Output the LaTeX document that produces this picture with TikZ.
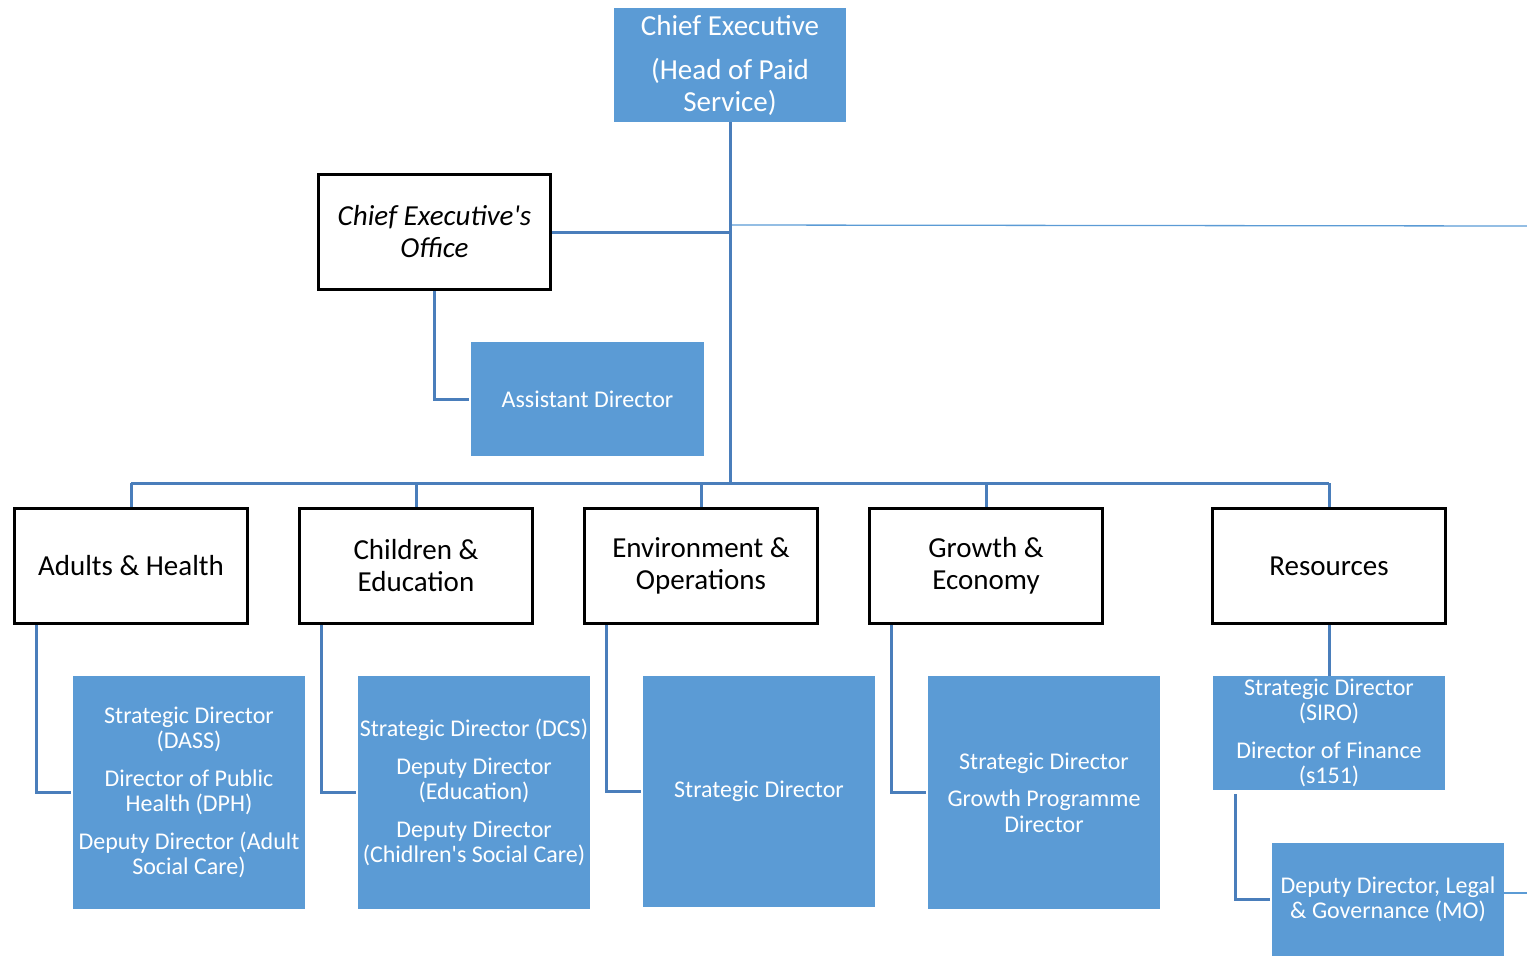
\documentclass[tikz,border=0pt]{standalone}
\usepackage{fontspec}
\setmainfont{Carlito}
\definecolor{boxblue}{HTML}{5B9BD5}
\definecolor{linkblue}{HTML}{4A7EBB}
\begin{document}
\begin{tikzpicture}[x=1pt,y=-1pt,
  bluebox/.style={fill=boxblue, draw=none, text=white, align=center, inner sep=0pt,
    minimum width=232pt, font=\fontsize{24}{25.5}\selectfont},
  bigblue/.style={bluebox, font=\fontsize{29}{32}\selectfont},
  blackbox/.style={draw=black, line width=3pt, fill=white, align=center, inner sep=0pt,
    minimum width=233pt, minimum height=115pt, font=\fontsize{29}{32}\selectfont},
  conn/.style={draw=linkblue, line width=3pt},
  thinconn/.style={draw=boxblue, line width=1.3pt}]
\useasboundingbox (0,0) rectangle (1527,956);

% top
\node[bigblue, minimum height=114pt] (ce) at (730,65) {Chief Executive\\[12pt](Head of Paid\\Service)};
\node[blackbox, minimum width=232pt] (off) at (434.5,232) {\itshape Chief Executive\textquotesingle s\\\itshape Office};
\node[bluebox, minimum width=233pt, minimum height=114pt] (ad) at (587.5,399) {Assistant Director};

% directorates
\node[blackbox] (ah) at (131,566) {Adults \& Health};
\node[blackbox] (ced) at (416,566) {Children \&\\Education};
\node[blackbox] (eo) at (701,566) {Environment \&\\Operations};
\node[blackbox] (ge) at (986,566) {Growth \&\\Economy};
\node[blackbox] (res) at (1329,566) {Resources};

% directors
\node[bluebox, minimum height=233pt] (ahb) at (189,792.5) {Strategic Director\\(DASS)\\[12pt]Director of Public\\Health (DPH)\\[12pt]Deputy Director (Adult\\Social Care)};
\node[bluebox, minimum height=233pt] (ceb) at (474,792.5) {Strategic Director (DCS)\\[12pt]Deputy Director\\(Education)\\[12pt]Deputy Director\\(Chidlren\textquotesingle s Social Care)};
\node[bluebox, minimum height=231pt] (eob) at (759,791.5) {Strategic Director};
\node[bluebox, minimum height=233pt] (geb) at (1044,792.5) {Strategic Director\\[12pt]Growth Programme\\Director};
\node[bluebox, minimum height=114pt] (resb) at (1329,733) {Strategic Director\\(SIRO)\\[12pt]Director of Finance\\(s151)};
\node[bluebox, minimum height=113pt] (dl) at (1388,899.5) {Deputy Director, Legal\\\& Governance (MO)};

% coordinates
\coordinate (bus) at (730,483);
\coordinate (j1) at (730,232);
\coordinate (t1) at (730,225);
\coordinate (t2) at (1527,226);
\coordinate (t3) at (1527,893);

% connectors
\draw[thinconn] (t1) -- (t2);
\draw[conn] (ce.south) -- (bus);
\draw[conn] (off.east) -- (j1);
\draw[conn] (off.south) |- ([xshift=-2pt]ad.west);
\draw[conn] (ah.north |- bus) -- (res.north |- bus);
\foreach \n in {ah,ced,eo,ge,res}{
  \draw[conn] (\n.north) -- (\n.north |- bus);
}
\draw[conn] ([xshift=23pt]ah.south west) |- ([xshift=-2pt]ahb.west);
\draw[conn] ([xshift=23pt]ced.south west) |- ([xshift=-2pt]ceb.west);
\draw[conn] ([xshift=23pt]eo.south west) |- ([xshift=-2pt]eob.west);
\draw[conn] ([xshift=23pt]ge.south west) |- ([xshift=-2pt]geb.west);
\draw[conn] (res.south) -- (resb.north);
\draw[conn] ([xshift=23pt,yshift=-4pt]resb.south west) |- ([xshift=-2pt]dl.west);
\draw[thinconn] (dl.east |- t3) -- (t3);
\end{tikzpicture}
\end{document}
